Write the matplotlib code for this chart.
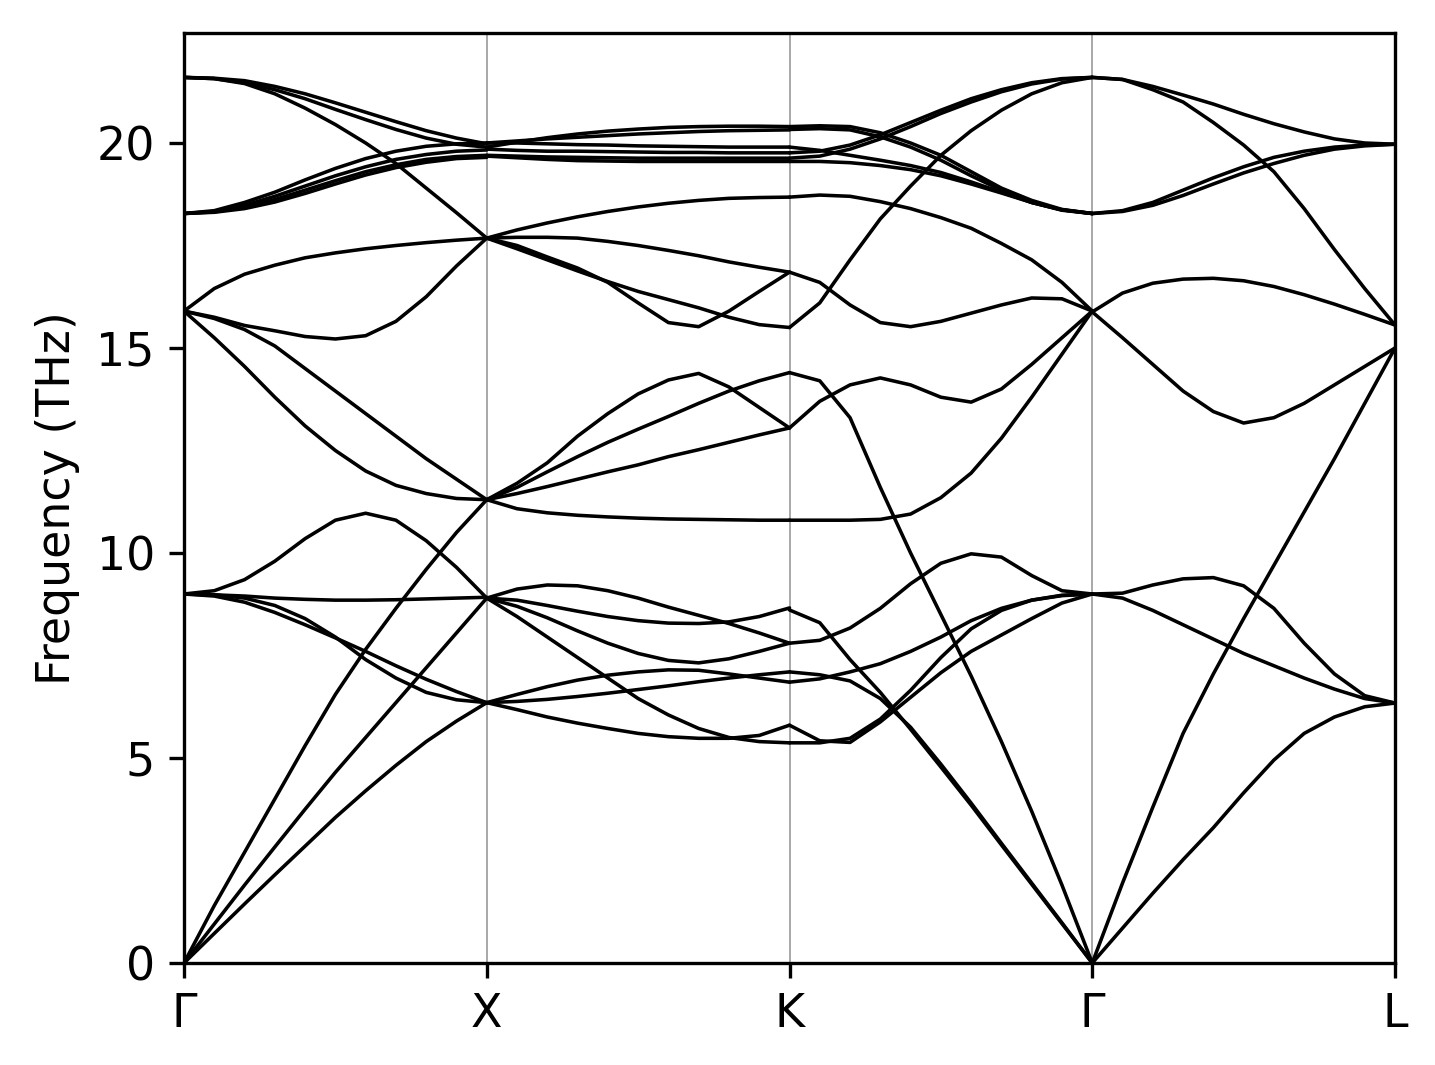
import numpy as np
import matplotlib
matplotlib.use("Agg")
import matplotlib.pyplot as plt

# High-symmetry path labels and their positions along the path
tick_labels = ["Γ", "X", "K", "Γ", "L"]
tick_positions = [0, 1, 2, 3, 4]

# Each band: frequencies (THz) sampled at 11 evenly spaced points along a segment
# Segment Γ-X
gx_bands = [
    [0.0, 0.72, 1.44, 2.15, 2.85, 3.55, 4.2, 4.82, 5.4, 5.9, 6.35],
    [0.0, 0.95, 1.9, 2.83, 3.75, 4.65, 5.5, 6.35, 7.2, 8.05, 8.9],
    [0.0, 1.4, 2.7, 4.0, 5.3, 6.55, 7.65, 8.65, 9.6, 10.5, 11.3],
    [9.0, 9.08, 9.35, 9.8, 10.35, 10.8, 10.97, 10.8, 10.3, 9.65, 8.9],
    [9.0, 8.98, 8.95, 8.9, 8.87, 8.85, 8.85, 8.86, 8.88, 8.9, 8.92],
    [9.0, 8.98, 8.9, 8.72, 8.4, 7.95, 7.4, 6.95, 6.6, 6.42, 6.35],
    [9.0, 8.95, 8.8, 8.55, 8.25, 7.93, 7.6, 7.25, 6.92, 6.62, 6.35],
    [15.9, 15.72, 15.45, 15.05, 14.5, 13.95, 13.4, 12.85, 12.3, 11.8, 11.3],
    [15.9, 15.25, 14.55, 13.8, 13.1, 12.5, 12.0, 11.65, 11.45, 11.33, 11.3],
    [15.9, 15.75, 15.55, 15.42, 15.28, 15.22, 15.3, 15.65, 16.25, 17.0, 17.68],
    [15.9, 16.45, 16.8, 17.02, 17.2, 17.32, 17.42, 17.5, 17.57, 17.63, 17.68],
    [21.6, 21.57, 21.45, 21.2, 20.85, 20.45, 20.0, 19.5, 18.9, 18.3, 17.68],
    [21.6, 21.58, 21.52, 21.38, 21.2, 20.98, 20.75, 20.52, 20.3, 20.12, 19.98],
    [21.6, 21.57, 21.47, 21.3, 21.08, 20.82, 20.57, 20.33, 20.12, 19.97, 19.9],
    [18.28, 18.35, 18.55, 18.8, 19.1, 19.38, 19.62, 19.8, 19.92, 19.98, 20.0],
    [18.28, 18.33, 18.48, 18.7, 18.95, 19.2, 19.42, 19.6, 19.72, 19.8, 19.83],
    [18.28, 18.32, 18.43, 18.62, 18.85, 19.08, 19.3, 19.47, 19.6, 19.67, 19.7],
    [18.28, 18.31, 18.4, 18.56, 18.77, 19.0, 19.22, 19.4, 19.53, 19.62, 19.65],
]

# Segment X-K
xk_bands = [
    [19.9, 20.02, 20.13, 20.22, 20.29, 20.34, 20.38, 20.4, 20.41, 20.41, 20.4],
    [20.0, 20.05, 20.1, 20.14, 20.18, 20.22, 20.25, 20.28, 20.3, 20.31, 20.32],
    [20.0, 20.0, 19.98, 19.96, 19.95, 19.93, 19.92, 19.91, 19.9, 19.9, 19.9],
    [19.85, 19.82, 19.8, 19.8, 19.79, 19.78, 19.77, 19.77, 19.76, 19.76, 19.76],
    [19.7, 19.68, 19.66, 19.65, 19.64, 19.63, 19.63, 19.63, 19.63, 19.63, 19.63],
    [19.68, 19.64, 19.6, 19.57, 19.56, 19.55, 19.55, 19.55, 19.55, 19.55, 19.55],
    [17.68, 17.88, 18.05, 18.2, 18.33, 18.44, 18.53, 18.6, 18.65, 18.67, 18.68],
    [17.68, 17.7, 17.7, 17.68, 17.6, 17.5, 17.38, 17.25, 17.1, 16.97, 16.85],
    [17.68, 17.5, 17.22, 16.95, 16.6, 16.1, 15.62, 15.52, 15.9, 16.38, 16.85],
    [17.68, 17.42, 17.15, 16.88, 16.62, 16.38, 16.18, 15.98, 15.75, 15.57, 15.5],
    [11.3, 11.08, 10.98, 10.92, 10.88, 10.85, 10.83, 10.82, 10.81, 10.8, 10.8],
    [11.3, 11.7, 12.2, 12.85, 13.4, 13.88, 14.22, 14.38, 14.05, 13.55, 13.05],
    [11.3, 11.6, 11.98, 12.35, 12.7, 13.02, 13.33, 13.65, 13.95, 14.2, 14.4],
    [11.3, 11.45, 11.62, 11.8, 11.98, 12.15, 12.35, 12.52, 12.7, 12.88, 13.05],
    [8.9, 9.12, 9.22, 9.2, 9.08, 8.9, 8.68, 8.48, 8.28, 8.05, 7.8],
    [8.9, 8.85, 8.72, 8.58, 8.45, 8.35, 8.29, 8.28, 8.32, 8.45, 8.66],
    [8.9, 8.7, 8.42, 8.1, 7.8, 7.55, 7.38, 7.32, 7.42, 7.6, 7.8],
    [8.9, 8.45, 7.95, 7.45, 6.95, 6.45, 6.05, 5.72, 5.5, 5.4, 5.37],
    [6.35, 6.55, 6.74, 6.9, 7.02, 7.1, 7.15, 7.14, 7.05, 6.95, 6.85],
    [6.35, 6.38, 6.43, 6.5, 6.58, 6.67, 6.76, 6.86, 6.95, 7.03, 7.1],
    [6.35, 6.18, 6.0, 5.85, 5.72, 5.6, 5.52, 5.48, 5.48, 5.55, 5.8],
]

# Segment K-Γ
kg_bands = [
    [19.76, 19.8, 19.95, 20.2, 20.5, 20.8, 21.08, 21.3, 21.47, 21.57, 21.6],
    [19.63, 19.68, 19.85, 20.1, 20.4, 20.72, 21.0, 21.25, 21.44, 21.56, 21.6],
    [15.5, 16.1, 17.15, 18.15, 18.95, 19.7, 20.3, 20.8, 21.2, 21.47, 21.6],
    [20.4, 20.42, 20.4, 20.25, 20.0, 19.7, 19.3, 18.9, 18.6, 18.38, 18.28],
    [20.33, 20.35, 20.32, 20.15, 19.9, 19.58, 19.2, 18.85, 18.55, 18.36, 18.28],
    [19.9, 19.82, 19.7, 19.58, 19.45, 19.28, 19.05, 18.8, 18.55, 18.37, 18.28],
    [19.55, 19.55, 19.52, 19.45, 19.35, 19.2, 19.0, 18.78, 18.55, 18.37, 18.28],
    [18.68, 18.73, 18.7, 18.57, 18.4, 18.18, 17.92, 17.55, 17.15, 16.6, 15.9],
    [16.85, 16.6, 16.05, 15.62, 15.52, 15.65, 15.85, 16.05, 16.22, 16.2, 15.9],
    [14.4, 14.2, 13.3, 11.6, 10.0, 8.5, 7.0, 5.4, 3.7, 1.9, 0.0],
    [13.05, 13.7, 14.1, 14.27, 14.1, 13.8, 13.68, 14.0, 14.6, 15.25, 15.9],
    [10.8, 10.8, 10.8, 10.82, 10.95, 11.35, 11.95, 12.8, 13.8, 14.85, 15.9],
    [8.61, 8.3, 7.4, 6.6, 5.7, 4.78, 3.85, 2.88, 1.92, 0.96, 0.0],
    [7.1, 7.03, 6.88, 6.45, 5.75, 4.85, 3.9, 2.92, 1.95, 0.98, 0.0],
    [7.8, 7.87, 8.17, 8.65, 9.25, 9.75, 9.98, 9.9, 9.45, 9.08, 9.0],
    [6.85, 6.93, 7.1, 7.3, 7.6, 7.95, 8.35, 8.65, 8.85, 8.96, 9.0],
    [5.8, 5.42, 5.38, 5.88, 6.48, 7.08, 7.6, 8.0, 8.4, 8.78, 9.0],
    [5.37, 5.37, 5.48, 5.95, 6.65, 7.45, 8.15, 8.6, 8.85, 8.97, 9.0],
]

# Segment Γ-L
gl_bands = [
    [21.6, 21.55, 21.38, 21.17, 20.95, 20.7, 20.47, 20.27, 20.1, 20.0, 19.97],
    [21.6, 21.55, 21.3, 21.0, 20.5, 19.95, 19.3, 18.4, 17.4, 16.45, 15.56],
    [18.28, 18.35, 18.55, 18.85, 19.15, 19.42, 19.65, 19.8, 19.9, 19.95, 19.97],
    [18.28, 18.33, 18.48, 18.72, 19.0, 19.27, 19.5, 19.7, 19.85, 19.93, 19.97],
    [15.88, 16.34, 16.58, 16.68, 16.7, 16.64, 16.5, 16.3, 16.07, 15.82, 15.56],
    [15.88, 15.25, 14.6, 13.95, 13.45, 13.17, 13.3, 13.65, 14.1, 14.55, 15.0],
    [0.0, 1.95, 3.8, 5.6, 7.05, 8.4, 9.7, 11.0, 12.3, 13.65, 15.0],
    [0.0, 0.85, 1.7, 2.52, 3.3, 4.15, 4.95, 5.6, 6.0, 6.25, 6.34],
    [9.0, 9.02, 9.22, 9.37, 9.4, 9.2, 8.65, 7.8, 7.05, 6.52, 6.34],
    [9.0, 8.9, 8.6, 8.25, 7.9, 7.55, 7.25, 6.95, 6.68, 6.45, 6.34],
]

segments = [gx_bands, xk_bands, kg_bands, gl_bands]

fig = plt.figure(figsize=(1435 / 300, 1065 / 300), dpi=300)
ax = fig.add_axes([184 / 1435, 1 - 963 / 1065, (1395 - 184) / 1435, (963 - 33) / 1065])

for xp in tick_positions[1:-1]:
    ax.axvline(xp, color="#999999", lw=0.4, zorder=1)

for i, seg in enumerate(segments):
    for band in seg:
        n = len(band)
        x = tick_positions[i] + np.arange(n) / (n - 1)
        ax.plot(x, band, color="black", lw=0.85, zorder=2,
                solid_joinstyle="round", solid_capstyle="round")

ax.set_xlim(tick_positions[0], tick_positions[-1])
ax.set_ylim(0, (963 - 33) / 41)
ax.set_xticks(tick_positions)
ax.set_xticklabels(tick_labels)
ax.set_yticks([0, 5, 10, 15, 20])
ax.tick_params(labelsize=11)
ax.set_ylabel("Frequency (THz)", fontsize=11)

fig.savefig("out.png", dpi=300)
